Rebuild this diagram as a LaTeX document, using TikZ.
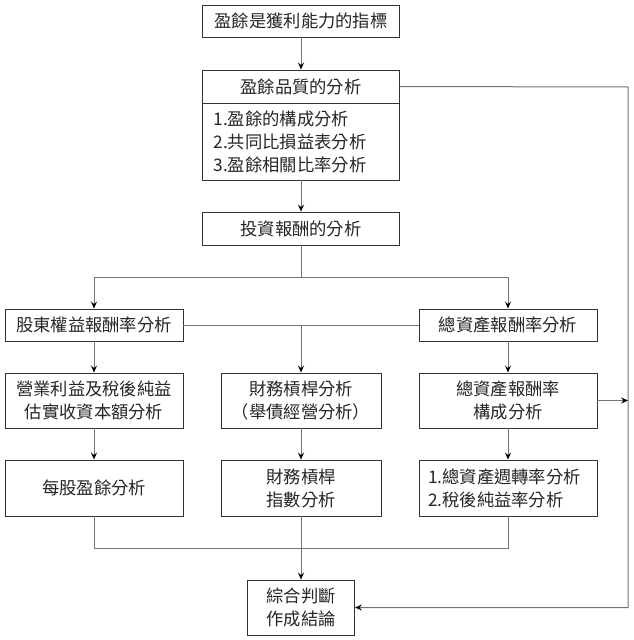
\documentclass[tikz,border=0pt]{standalone}
\usepackage{fontspec}
\newfontfamily\cjk{Noto Sans CJK TC}
\usetikzlibrary{arrows.meta}
\begin{document}
\begin{tikzpicture}[x=1pt,y=-1pt,
  box/.style={draw=black!80, line width=0.9pt, rectangle, inner sep=0pt,
    font=\cjk\fontsize{17.3}{23}\selectfont, text=black!85, align=center},
  conn/.style={draw=black!55, line width=1pt},
  arr/.style={conn, -{Stealth[length=7pt,width=6pt,inset=2.5pt,color=black]}}]
\useasboundingbox[fill=white] (0,0) rectangle (634,640);
% top column
\node[box, minimum width=197pt, minimum height=32pt] (b1) at (301,21) {盈餘是獲利能力的指標};
\node[box, minimum width=197pt, minimum height=33pt] (b2h) at (301,86.5) {盈餘品質的分析};
\node[box, minimum width=197pt, minimum height=77pt, text width=175pt, inner xsep=11pt, align=left] (b2b) at (301,141.5)
  {1.盈餘的構成分析\\2.共同比損益表分析\\3.盈餘相關比率分析};
\node[box, minimum width=197pt, minimum height=33pt] (b3) at (301,228.5) {投資報酬的分析};
% row 1
\node[box, minimum width=178pt, minimum height=32pt] (L1) at (94,325) {股東權益報酬率分析};
\node[box, minimum width=178pt, minimum height=32pt] (R1) at (508,325) {總資產報酬率分析};
% row 2
\node[box, minimum width=178pt, minimum height=55pt] (L2) at (94,400.5) {營業利益及稅後純益\\估實收資本額分析};
\node[box, minimum width=160pt, minimum height=55pt] (M2) at (301,400.5) {財務槓桿分析\\（舉債經營分析）};
\node[box, minimum width=178pt, minimum height=55pt] (R2) at (508,400.5) {總資產報酬率\\構成分析};
% row 3
\node[box, minimum width=178pt, minimum height=56pt] (L3) at (94,488) {每股盈餘分析};
\node[box, minimum width=160pt, minimum height=56pt] (M3) at (301,488) {財務槓桿\\指數分析};
\node[box, minimum width=178pt, minimum height=56pt, text width=160pt, inner xsep=9pt, align=left] (R3) at (508,488)
  {1.總資產週轉率分析\\2.稅後純益率分析};
% final
\node[box, minimum width=107pt, minimum height=55pt] (F) at (301,607.5) {綜合判斷\\作成結論};
% coordinates
\coordinate (rt) at (628,87);
\coordinate (rb) at (628,607.5);
\coordinate (s1) at (301,277);
\coordinate (sl) at (94,277);
\coordinate (sr) at (508,277);
\coordinate (m) at (301,325);
\coordinate (bl) at (94,548);
\coordinate (br) at (508,548);
% connectors
\draw[arr] (b1) -- (b2h);
\draw[arr] (b2b) -- (b3);
\draw[arr] (b2h.east) -- (rt) -- (rb) -- (F.east);
\draw[conn] (b3.south) -- (s1);
\draw[conn] (sl) -- (sr);
\draw[arr] (sl) -- (L1.north);
\draw[arr] (sr) -- (R1.north);
\draw[conn] (L1.east) -- (R1.west);
\draw[arr] (m) -- (M2.north);
\draw[arr] (L1) -- (L2);
\draw[arr] (R1) -- (R2);
\draw[arr] (L2) -- (L3);
\draw[arr] (M2) -- (M3);
\draw[arr] (R2) -- (R3);
\draw[arr] (R2.east) -- (R2.east -| rt);
\draw[conn] (L3.south) -- (bl) -- (br) -- (R3.south);
\draw[arr] (M3.south) -- (F.north);
\end{tikzpicture}
\end{document}
